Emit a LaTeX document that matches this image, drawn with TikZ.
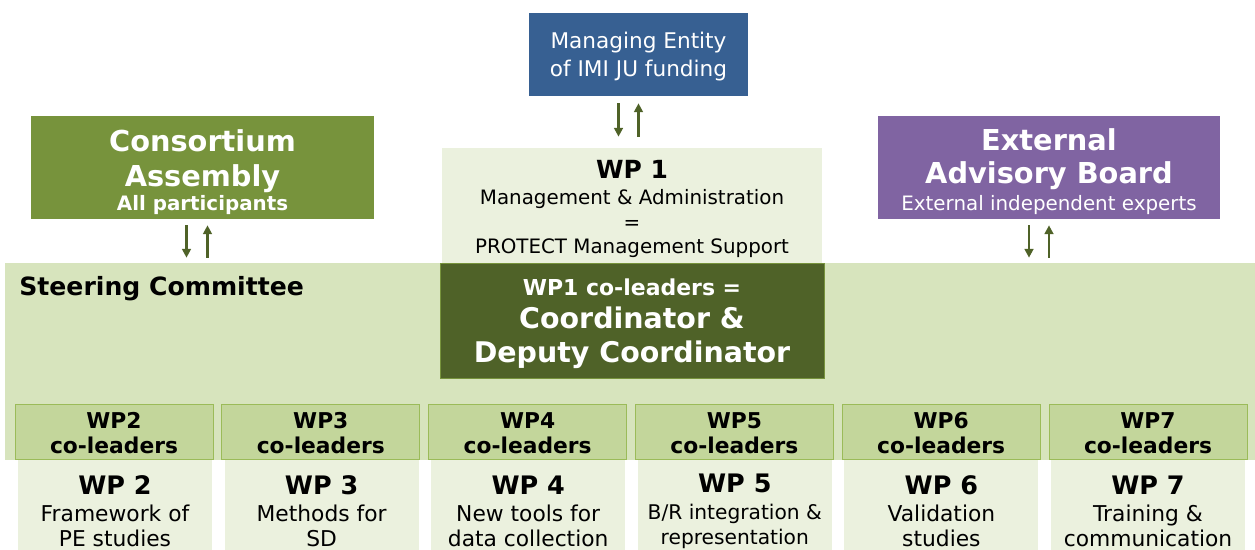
\documentclass[tikz,border=0pt]{standalone}
\usepackage{fontspec}
\setmainfont{DejaVu Sans}
\usetikzlibrary{arrows.meta}
\definecolor{meblue}{HTML}{376092}
\definecolor{cagreen}{HTML}{77933C}
\definecolor{eabpurple}{HTML}{8064A2}
\definecolor{wplight}{HTML}{EBF1DE}
\definecolor{scgreen}{HTML}{D7E4BD}
\definecolor{coorddark}{HTML}{4F6228}
\definecolor{leadgreen}{HTML}{C3D69B}
\definecolor{leadline}{HTML}{9BBB59}
\newcommand{\fsz}[2]{\fontsize{#1pt}{#2pt}\selectfont}
\newcommand{\lift}[1]{\rule{0pt}{#1pt}}
\lineskiplimit=-20pt

\begin{document}
\begin{tikzpicture}[ x=0.02cm,y=-0.02cm,
    box/.style={ inner sep=0pt,align=center },
    link/.style={ coorddark,line width=1.2pt,-{Triangle[length=5pt,width=5pt]} } ]
    \useasboundingbox (0,0) rectangle (1255,550);

    \node [ box,fill=meblue,text=white,minimum width=4.38cm,minimum height=1.66cm,font=\fsz{12.3}{15.9} ] (me) at (638.5,54.5) {\lift{11.6}Managing Entity\\of IMI JU funding};
    \node [ box,fill=wplight,minimum width=7.6cm,minimum height=2.3cm,font=\fsz{11.3}{13.9} ] (wp1) at (632,205.5) {{\bfseries\fsz{14.2}{13.9}\lift{14.4}WP 1}\\[0.9pt] Management \& Administration\\ =\\ PROTECT Management Support};
    \node [ box,fill=cagreen,text=white,minimum width=6.86cm,minimum height=2.06cm,font=\bfseries\fsz{11.3}{13.6} ] (ca) at (202.5,167.5) {{\fsz{16.4}{13.6}\lift{17.6}Consortium}\\[6.2pt] {\fsz{16.4}{13.6}Assembly}\\ All participants};
    \node [ box,fill=eabpurple,text=white,minimum width=6.84cm,minimum height=2.06cm,font=\fsz{11.3}{15.3} ] (eab) at (1049,167.5) {{\bfseries\fsz{16.4}{15.3}\lift{17}External}\\[3.4pt] {\bfseries\fsz{16.4}{15.3}Advisory Board}\\ External independent experts};

    \node [ box,fill=scgreen,minimum width=25cm,minimum height=3.94cm ] (sc) at (630,361.5) {};
    \node [ anchor=base west,inner sep=0pt,font=\bfseries\fsz{14.3}{17} ] (sctitle) at (19,296) {Steering Committee};
    \node [ box,fill=coorddark,draw=cagreen,text=white,minimum width=7.68cm,minimum height=2.3cm,font=\bfseries\fsz{16.2}{19.3} ] (coord) at (632,320.5) {{\fsz{12.5}{19.3}\lift{12.9}WP1 co-leaders =}\\[-0.6pt] Coordinator \&\\ Deputy Coordinator};

    \draw [ link,shorten <=0.14cm,shorten >=0.22cm ] ([xshift=-0.4cm]me.south) -- ([xshift=-0.4cm]me.south |- wp1.north);
    \draw [ link,shorten <=0.22cm,shorten >=0.14cm ] (me.south |- wp1.north) -- (me.south);
    \draw [ link,shorten <=0.12cm,shorten >=0.1cm ] ([xshift=-0.32cm]ca.south) -- ([xshift=-0.32cm]ca.south |- sc.north);
    \draw [ link,shorten <=0.1cm,shorten >=0.12cm ] ([xshift=0.1cm]ca.south |- sc.north) -- ([xshift=0.1cm]ca.south);
    \draw [ link,shorten <=0.12cm,shorten >=0.1cm ] ([xshift=-0.4cm]eab.south) -- ([xshift=-0.4cm]eab.south |- sc.north);
    \draw [ link,shorten <=0.1cm,shorten >=0.12cm ] (eab.south |- sc.north) -- (eab.south);

    \foreach \n/\s/\la/\lb [count=\i from 0] in {2/12.4/Framework of/PE studies,3/12.4/Methods for/SD,4/12.4/New tools for/data collection,5/11.5/{B/R integration \&}/representation,6/12.4/Validation/studies,7/12.4/Training \&/communication} {
        \node [ box,fill=leadgreen,draw=leadline,minimum width=3.96cm,minimum height=1.1cm,font=\bfseries\fsz{12.4}{14.2} ] (lead\n) at (114+206.8*\i,431.5) {\lift{11.3}WP\n\\co-leaders};
        \node [ box,fill=wplight,minimum width=3.88cm,minimum height=2.04cm,font=\fsz{\s}{14.2} ] (wp\n) at (115+206.6*\i,511) {{\bfseries\fsz{14.5}{14.2}WP \n}\\[1.1pt] \la\\ \lb};
    }
\end{tikzpicture}
\end{document}
